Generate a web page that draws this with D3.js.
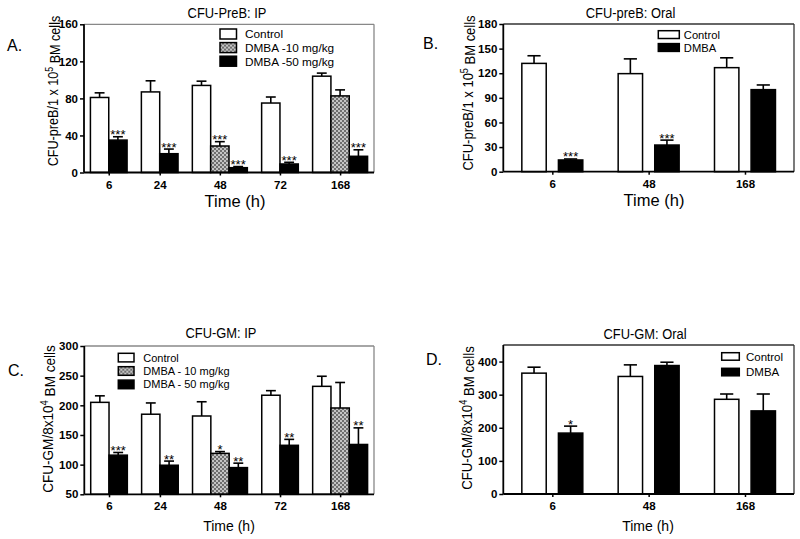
<!DOCTYPE html>
<html>
<head>
<meta charset="utf-8">
<script src="https://cdn.jsdelivr.net/npm/d3@7"></script>
<style>
  body { margin: 0; background: #fff; }
  svg { display: block; font-family: "Liberation Sans", Arial, sans-serif; }
</style>
</head>
<body>
<div id="chart"></div>
<script>
// ---- data ----

// panel A: CFU-preB, IP
var timesA = ["6", "24", "48", "72", "168"];
var ctrlA = [81, 87, 94, 75, 104];
var ctrlErrA = [5, 12, 4.6, 6.5, 3.3];
var d10A = [null, null, 28.6, null, 82.7];
var d10ErrA = [null, null, 4.7, null, 6.5];
var d50A = [35, 20.3, 5.2, 9.2, 17.5];
var d50ErrA = [3.6, 5, 1.2, 1.8, 7];
var starsD10A = ["", "", "***", "", ""];
var starsD50A = ["***", "***", "***", "***", "***"];
var ticksA = [0, 40, 80, 120, 160];

// panel B: CFU-preB, oral
var timesB = ["6", "48", "168"];
var ctrlB = [132, 119.5, 126.8];
var ctrlErrB = [9.3, 18, 12];
var dmbaB = [14.3, 32.5, 100];
var dmbaErrB = [1.2, 6, 5.7];
var starsB = ["***", "***", ""];
var ticksB = [0, 30, 60, 90, 120, 150, 180];

// panel C: CFU-GM, IP
var timesC = ["6", "24", "48", "72", "168"];
var ctrlC = [205, 185, 182, 217, 232];
var ctrlErrC = [11, 19, 24, 7.7, 17];
var d10C = [null, null, 119, null, 195.5];
var d10ErrC = [null, null, 3, null, 43];
var d50C = [116, 99, 95, 132.6, 134];
var d50ErrC = [4.5, 7, 7.5, 10, 28];
var starsD10C = ["", "", "*", "", ""];
var starsD50C = ["***", "**", "**", "**", "**"];
var ticksC = [50, 100, 150, 200, 250, 300];

// panel D: CFU-GM, oral
var timesD = ["6", "48", "168"];
var ctrlD = [365, 355, 286];
var ctrlErrD = [18, 35, 16];
var dmbaD = [184, 388, 251];
var dmbaErrD = [21, 10, 51];
var starsD = ["*", "", ""];
var ticksD = [0, 100, 200, 300, 400];

var noStars3 = ["", "", ""];
var noStars5 = ["", "", "", "", ""];

// the source picture has slightly squeezed lettering
var squeeze = 0.88;

// ---- svg ----
var svg = d3.select("#chart")
            .append("svg")
            .attr("width", 800)
            .attr("height", 539);

svg.append("rect").attr("width", 800).attr("height", 539).attr("fill", "#fff");

// checkered fill for the 10 mg/kg bars
var pat = svg.append("defs").append("pattern")
             .attr("id", "hatch")
             .attr("patternUnits", "userSpaceOnUse")
             .attr("width", 4)
             .attr("height", 4);
pat.append("rect").attr("width", 4).attr("height", 4).attr("fill", "#6e6e6e");
pat.append("rect").attr("width", 2).attr("height", 2).attr("fill", "#c4c4c4");
pat.append("rect").attr("x", 2).attr("y", 2).attr("width", 2).attr("height", 2).attr("fill", "#c4c4c4");

// text that is a bit taller than it is wide
function squeezedText(parent, x, y, size, rotate) {
    return parent.append("text")
                 .attr("transform", "translate(" + x + "," + y + ")" +
                       (rotate ? " rotate(-90)" : "") + " scale(" + squeeze + ",1)")
                 .attr("font-size", size / squeeze * 0.97);
}

// work out where each bar goes, in "bar width" units
function layoutBars(times, series, innerGap, groupGap, outer) {
    var bars = [];
    var centers = [];
    var u = outer;
    times.forEach(function(t, i) {
        var present = series.filter(function(s) { return s.values[i] != null; });
        var start = u;
        present.forEach(function(s, j) {
            bars.push({s: s, u0: u, value: s.values[i], err: s.errs[i], star: s.stars[i]});
            u += 1;
            if (j < present.length - 1) u += innerGap;
        });
        centers.push((start + u) / 2);
        if (i < times.length - 1) u += groupGap;
    });
    return {bars: bars, centers: centers, total: u + outer};
}

// draws one panel
function drawPanel(cfg) {
    var g = svg.append("g");
    var lay = layoutBars(cfg.times, cfg.series, cfg.innerGap, cfg.groupGap, cfg.outer);

    var xScale = d3.scaleLinear()
                   .domain([0, lay.total])
                   .range([cfg.x0, cfg.x1]);

    var yScale = d3.scaleLinear()
                   .domain(cfg.yDomain)
                   .range([cfg.yBottom, cfg.yTop]);

    var xTicks = d3.scaleOrdinal()
                   .domain(cfg.times)
                   .range(lay.centers.map(function(c) { return xScale(c); }));

    // frame on top and right
    g.append("line")
     .attr("x1", cfg.x0).attr("x2", cfg.x1)
     .attr("y1", cfg.yTop).attr("y2", cfg.yTop)
     .attr("stroke", cfg.frame).attr("stroke-width", 1.3);
    g.append("line")
     .attr("x1", cfg.x1).attr("x2", cfg.x1)
     .attr("y1", cfg.yTop).attr("y2", cfg.yBottom)
     .attr("stroke", cfg.frame).attr("stroke-width", 1.3);

    // bars
    var bar = g.selectAll(".bar")
               .data(lay.bars)
               .enter().append("g")
               .attr("class", "bar");

    bar.append("line")
       .attr("x1", function(d) { return xScale(d.u0 + 0.5); })
       .attr("x2", function(d) { return xScale(d.u0 + 0.5); })
       .attr("y1", function(d) { return yScale(d.value); })
       .attr("y2", function(d) { return yScale(d.value + d.err); })
       .attr("stroke", "#000").attr("stroke-width", 1.6);

    bar.append("line")
       .attr("x1", function(d) { return xScale(d.u0 + 0.23); })
       .attr("x2", function(d) { return xScale(d.u0 + 0.77); })
       .attr("y1", function(d) { return yScale(d.value + d.err); })
       .attr("y2", function(d) { return yScale(d.value + d.err); })
       .attr("stroke", "#000").attr("stroke-width", 1.6);

    bar.append("rect")
       .attr("x", function(d) { return xScale(d.u0); })
       .attr("y", function(d) { return yScale(d.value); })
       .attr("width", function(d) { return xScale(d.u0 + 1) - xScale(d.u0); })
       .attr("height", function(d) { return yScale(cfg.yDomain[0]) - yScale(d.value); })
       .attr("fill", function(d) { return d.s.fill; })
       .attr("stroke", "#000").attr("stroke-width", 1.5);

    bar.append("text")
       .attr("x", function(d) { return xScale(d.u0 + 0.5); })
       .attr("y", function(d) { return yScale(d.value + d.err) + 2.5; })
       .attr("text-anchor", "middle")
       .attr("font-size", 13)
       .text(function(d) { return d.star; });

    // axes
    var yAxis = d3.axisLeft(yScale)
                  .tickValues(cfg.yTicks)
                  .tickSize(4)
                  .tickSizeOuter(0)
                  .tickPadding(2);
    var ya = g.append("g")
              .attr("transform", "translate(" + cfg.x0 + ",0)")
              .call(yAxis);
    ya.select(".domain").remove();
    ya.selectAll("line").attr("stroke-width", 1.5);
    ya.selectAll("text").attr("font-size", 11.5).attr("font-weight", "bold")
      .attr("font-family", "Liberation Sans, Arial, sans-serif").attr("fill", "#000");

    var xAxis = d3.axisBottom(xTicks)
                  .tickSize(3)
                  .tickSizeOuter(0)
                  .tickPadding(5);
    var xa = g.append("g")
              .attr("transform", "translate(0," + cfg.yBottom + ")")
              .call(xAxis);
    xa.select(".domain").remove();
    xa.selectAll("line").attr("stroke-width", 1.5);
    xa.selectAll("text").attr("font-size", 11.5).attr("font-weight", "bold")
      .attr("font-family", "Liberation Sans, Arial, sans-serif").attr("fill", "#000");

    g.append("line")
     .attr("x1", cfg.x0).attr("x2", cfg.x0)
     .attr("y1", cfg.yTop).attr("y2", cfg.yBottom)
     .attr("stroke", "#000").attr("stroke-width", 1.8);
    g.append("line")
     .attr("x1", cfg.x0).attr("x2", cfg.x1)
     .attr("y1", cfg.yBottom).attr("y2", cfg.yBottom)
     .attr("stroke", "#000").attr("stroke-width", 1.8);

    // title
    squeezedText(g, cfg.titleX, cfg.titleY, 13.3)
        .attr("text-anchor", "middle")
        .text(cfg.title);

    // x label
    g.append("text")
     .attr("x", cfg.xLabelX).attr("y", cfg.xLabelY)
     .attr("text-anchor", "middle")
     .attr("font-size", cfg.xLabelSize)
     .text("Time (h)");

    // y label with superscript
    var yl = squeezedText(g, cfg.yLabelX, cfg.yLabelY, cfg.yLabelSize, true)
                 .attr("text-anchor", "middle");
    yl.append("tspan").text(cfg.yLabel[0]);
    yl.append("tspan").attr("dy", "-0.45em").attr("font-size", "70%").text(cfg.yLabel[1]);
    yl.append("tspan").attr("dy", "0.45em").text(cfg.yLabel[2]);

    // panel letter
    g.append("text")
     .attr("x", cfg.letterX).attr("y", cfg.letterY)
     .attr("font-size", 16)
     .text(cfg.letter);

    // legend
    var leg = g.selectAll(".legend")
               .data(cfg.series)
               .enter().append("g")
               .attr("class", "legend")
               .attr("transform", function(d, i) {
                   return "translate(" + cfg.legX + "," + (cfg.legY + i * cfg.legStep) + ")";
               });
    leg.append("rect")
       .attr("width", cfg.legW).attr("height", cfg.legH)
       .attr("fill", function(d) { return d.fill; })
       .attr("stroke", "#000").attr("stroke-width", 1.5);
    leg.append("text")
       .attr("x", cfg.legW + cfg.legTextGap)
       .attr("y", cfg.legH / 2 + cfg.legSize * 0.37)
       .attr("font-size", cfg.legSize)
       .text(function(d) { return d.name; });
}

drawPanel({
    letter: "A.", letterX: 7, letterY: 51,
    title: "CFU-PreB: IP", titleX: 227, titleY: 18,
    times: timesA,
    series: [
        {name: "Control", values: ctrlA, errs: ctrlErrA, stars: noStars5, fill: "#fff"},
        {name: "DMBA -10 mg/kg", values: d10A, errs: d10ErrA, stars: starsD10A, fill: "url(#hatch)"},
        {name: "DMBA -50 mg/kg", values: d50A, errs: d50ErrA, stars: starsD50A, fill: "#000"}
    ],
    innerGap: 0, groupGap: 0.78, outer: 0.35,
    x0: 84, x1: 374, yTop: 24.3, yBottom: 172.5,
    yDomain: [0, 160], yTicks: ticksA, frame: "#888",
    xLabelX: 235, xLabelY: 207, xLabelSize: 16.5,
    yLabel: ["CFU-preB/1 x 10", "5", " BM cells"], yLabelX: 58, yLabelY: 91, yLabelSize: 13,
    legX: 220, legY: 29, legStep: 13.6, legW: 16.5, legH: 10, legTextGap: 8.5, legSize: 11.8
});

drawPanel({
    letter: "B.", letterX: 423, letterY: 49,
    title: "CFU-preB: Oral", titleX: 630.5, titleY: 18.3,
    times: timesB,
    series: [
        {name: "Control", values: ctrlB, errs: ctrlErrB, stars: noStars3, fill: "#fff"},
        {name: "DMBA", values: dmbaB, errs: dmbaErrB, stars: starsB, fill: "#000"}
    ],
    innerGap: 0.5, groupGap: 1.45, outer: 0.76,
    x0: 503.3, x1: 794, yTop: 24, yBottom: 171.7,
    yDomain: [0, 180], yTicks: ticksB, frame: "#333",
    xLabelX: 654, xLabelY: 206, xLabelSize: 16.5,
    yLabel: ["CFU-preB/1 x 10", "5", " BM cells"], yLabelX: 473, yLabelY: 93, yLabelSize: 13.4,
    legX: 658.3, legY: 30.7, legStep: 12.9, legW: 21, legH: 7.8, legTextGap: 4.5, legSize: 11.2
});

drawPanel({
    letter: "C.", letterX: 8, letterY: 376,
    title: "CFU-GM: IP", titleX: 221, titleY: 338,
    times: timesC,
    series: [
        {name: "Control", values: ctrlC, errs: ctrlErrC, stars: noStars5, fill: "#fff"},
        {name: "DMBA - 10 mg/kg", values: d10C, errs: d10ErrC, stars: starsD10C, fill: "url(#hatch)"},
        {name: "DMBA - 50 mg/kg", values: d50C, errs: d50ErrC, stars: starsD50C, fill: "#000"}
    ],
    innerGap: 0, groupGap: 0.78, outer: 0.35,
    x0: 84.3, x1: 374, yTop: 346, yBottom: 494.3,
    yDomain: [50, 300], yTicks: ticksC, frame: "#888",
    xLabelX: 229, xLabelY: 531, xLabelSize: 14,
    yLabel: ["CFU-GM/8x10", "4", " BM cells"], yLabelX: 53, yLabelY: 419, yLabelSize: 14,
    legX: 118.3, legY: 353.3, legStep: 13.4, legW: 15.7, legH: 8.6, legTextGap: 9.3, legSize: 11
});

drawPanel({
    letter: "D.", letterX: 426, letterY: 365,
    title: "CFU-GM: Oral", titleX: 645, titleY: 339,
    times: timesD,
    series: [
        {name: "Control", values: ctrlD, errs: ctrlErrD, stars: noStars3, fill: "#fff"},
        {name: "DMBA", values: dmbaD, errs: dmbaErrD, stars: starsD, fill: "#000"}
    ],
    innerGap: 0.5, groupGap: 1.45, outer: 0.76,
    x0: 503.3, x1: 794, yTop: 345, yBottom: 494,
    yDomain: [0, 450], yTicks: ticksD, frame: "#333",
    xLabelX: 648, xLabelY: 531, xLabelSize: 14,
    yLabel: ["CFU-GM/8x10", "4", " BM cells"], yLabelX: 472, yLabelY: 418, yLabelSize: 13.6,
    legX: 721.7, legY: 352.7, legStep: 15.6, legW: 17.6, legH: 7.5, legTextGap: 6.7, legSize: 11.5
});
</script>
</body>
</html>
